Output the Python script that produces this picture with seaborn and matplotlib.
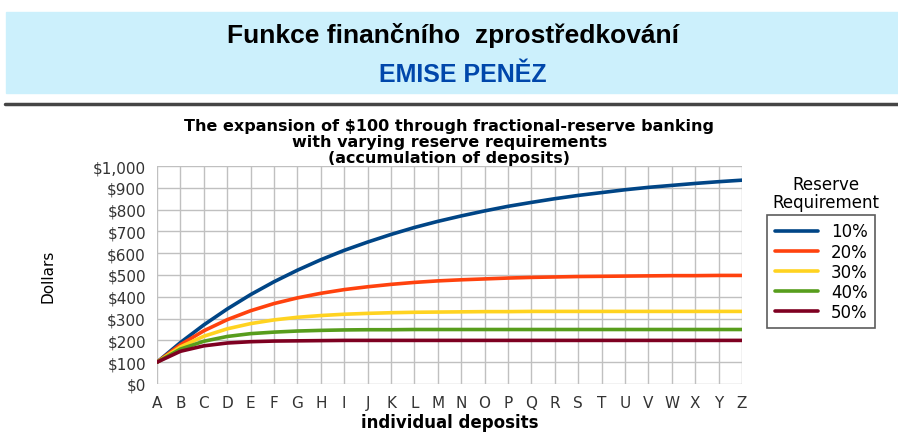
import matplotlib
matplotlib.use("Agg")
import matplotlib.pyplot as plt
import pandas as pd
import seaborn as sns
from matplotlib.patches import Rectangle
from matplotlib.lines import Line2D
from matplotlib.ticker import FuncFormatter, MultipleLocator

# values (accumulated deposits, dollars)
deposits = list("ABCDEFGHIJKLMNOPQRSTUVWXYZ")
req_10 = [100, 190, 271, 344, 410, 469, 522, 570, 613, 651, 686, 718, 746,
          771, 794, 815, 833, 850, 865, 878, 891, 902, 911, 920, 928, 935]
req_20 = [100, 180, 244, 295, 336, 369, 395, 416, 433, 446, 457, 466, 473,
          478, 482, 486, 489, 491, 493, 494, 495, 496, 497, 497, 498, 498]
req_30 = [100, 170, 219, 253, 277, 294, 306, 314, 320, 324, 327, 329, 330,
          331, 332, 332, 333, 333, 333, 333, 333, 333, 333, 333, 333, 333]
req_40 = [100, 160, 196, 218, 231, 238, 243, 246, 248, 249, 249, 250, 250,
          250, 250, 250, 250, 250, 250, 250, 250, 250, 250, 250, 250, 250]
req_50 = [100, 150, 175, 188, 194, 197, 198, 199, 200, 200, 200, 200, 200,
          200, 200, 200, 200, 200, 200, 200, 200, 200, 200, 200, 200, 200]
requirements = ["10%", "20%", "30%", "40%", "50%"]
colors = ["#004586", "#ff420e", "#ffd320", "#579d1c", "#7e0021"]

rows = []
for name, vals in zip(requirements, [req_10, req_20, req_30, req_40, req_50]):
    for d, v in zip(deposits, vals):
        rows.append({"deposit": d, "Dollars": v, "Reserve": name})
df = pd.DataFrame(rows)

sns.set_style("white")
plt.rcParams["font.family"] = ["DejaVu Sans"]
plt.rcParams["text.color"] = "black"
plt.rcParams["axes.labelcolor"] = "black"

fig = plt.figure(figsize=(8.98, 4.35), dpi=100)

# slide header
fig.patches.append(Rectangle((6 / 898, 1 - 94 / 435), 1, 81 / 435,
                             transform=fig.transFigure, color="#ccf0fc", zorder=0))
fig.text(0.504, 1 - 35 / 435, "Funkce finančního  zprostředkování", ha="center", va="center",
         fontsize=19, fontweight="bold", family=["Liberation Sans", "DejaVu Sans"])
fig.text(0.515, 1 - 75 / 435, "EMISE PENĚZ", ha="center", va="center", color="#0047ab",
         fontsize=18, fontweight="bold", family=["Liberation Sans", "DejaVu Sans"])
fig.lines.append(Line2D([5 / 898, 1], [1 - 105 / 435] * 2, transform=fig.transFigure,
                        color="#454545", lw=2.5))

ax = fig.add_axes([157 / 898, 1 - 385 / 435, 585 / 898, 218 / 435])
sns.lineplot(data=df, x="deposit", y="Dollars", hue="Reserve", hue_order=requirements,
             palette=colors, lw=2.6, ax=ax, sort=False)

ax.set_xlim(0, len(deposits) - 1)
ax.set_ylim(0, 1000)
ax.yaxis.set_major_locator(MultipleLocator(100))
ax.yaxis.set_major_formatter(FuncFormatter(lambda v, p: f"${v:,.0f}"))
ax.grid(True, color="#c0c0c0", lw=1)
for s in ax.spines.values():
    s.set_visible(False)
ax.tick_params(axis="both", length=5, color="#c0c0c0", width=1, labelcolor="#333333",
               labelsize=11, pad=3)
ax.set_xlabel("individual deposits", fontsize=12, fontweight="bold", labelpad=2)
ax.set_ylabel("Dollars", fontsize=11, labelpad=27,
              family=["Liberation Sans Narrow", "DejaVu Sans"])

ax.set_title("The expansion of $100 through fractional-reserve banking\n"
             "with varying reserve requirements\n(accumulation of deposits)",
             fontsize=11.5, fontweight="bold", linespacing=1.08, pad=3)

sns.move_legend(ax, "upper left", bbox_to_anchor=(767 / 898, 1 - 216 / 435),
                bbox_transform=fig.transFigure, title=None, fontsize=12,
                frameon=True, fancybox=False, edgecolor="#333333", borderaxespad=0,
                handlelength=2.6, labelspacing=0.12, borderpad=0.45)
ax.get_legend().get_frame().set_linewidth(1.2)
fig.text(826 / 898, 1 - 194 / 435, "Reserve\nRequirement", ha="center", va="center",
         fontsize=12, linespacing=1.0)

fig.savefig("out.png", dpi=100)
